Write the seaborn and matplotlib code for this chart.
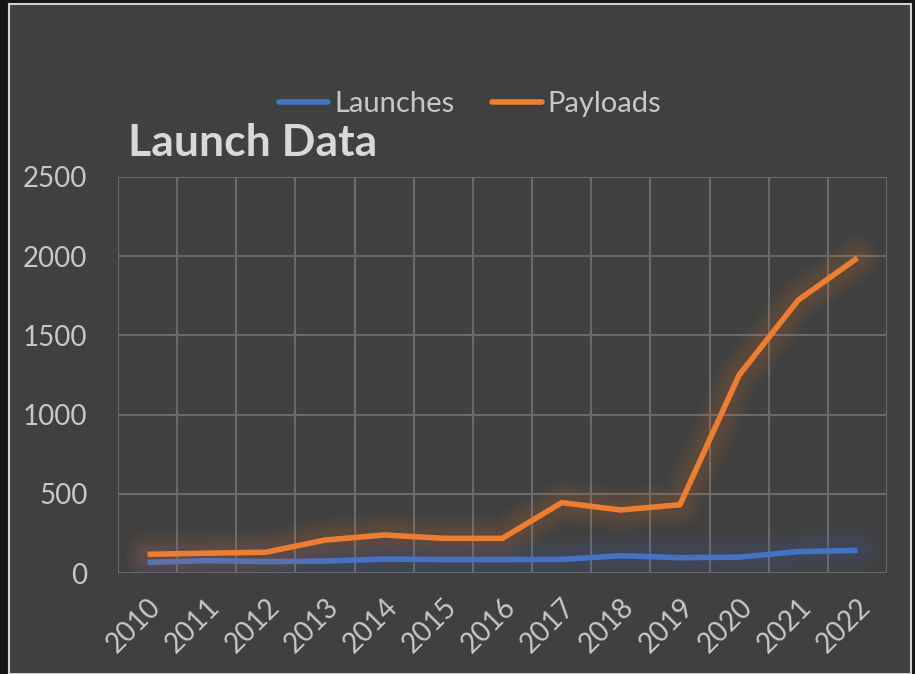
import matplotlib.pyplot as plt
import matplotlib.patheffects as pe
from matplotlib.patches import Rectangle
import pandas as pd
import seaborn as sns

years = [str(y) for y in range(2010, 2023)]
launches = [67, 78, 72, 75, 88, 85, 85, 86, 109, 97, 100, 135, 143]
payloads = [118, 125, 131, 208, 240, 219, 219, 444, 398, 431, 1250, 1723, 1989]
y_ticks = [0, 500, 1000, 1500, 2000, 2500]

bg = '#404040'
text_col = '#c8c8c8'
grid_col = '#6a6a6a'
blue = '#4472c4'
orange = '#ed7d31'

df = pd.DataFrame({
    'pos': list(range(len(years))) * 2,
    'value': launches + payloads,
    'series': ['Launches'] * len(years) + ['Payloads'] * len(years),
})

sns.set_style('dark')
plt.rcParams['font.family'] = ['Lato', 'DejaVu Sans']

fig = plt.figure(figsize=(9.15, 6.74), dpi=100, facecolor='#151515')
# chart panel behind everything
panel = Rectangle((9 / 915, 0), 902 / 915, 670 / 674, transform=fig.transFigure,
                  facecolor=bg, edgecolor='#d0d0d0', linewidth=1.5, zorder=-10)
fig.patches.append(panel)

ax = fig.add_axes([118 / 915, 1 - 573 / 674, 769 / 915, 396 / 674])
ax.set_facecolor(bg)

sns.lineplot(data=df, x='pos', y='value', hue='series', palette=[blue, orange],
             linewidth=4, ax=ax, legend=False)

# soft glow under the lines (round caps so the ends fade out)
for line, col in zip(ax.get_lines(), [blue, orange]):
    effects = [pe.Stroke(linewidth=w, foreground=col, alpha=0.035, capstyle='round',
                         joinstyle='round') for w in (32, 27, 22, 17, 12)]
    line.set_path_effects(effects + [pe.Normal()])
    line.set_solid_capstyle('butt')

ax.set_xlim(-0.5, len(years) - 0.5)
ax.set_ylim(0, 2500)
ax.set_yticks(y_ticks)
ax.set_yticklabels([str(t) for t in y_ticks])
ax.set_xticks(range(len(years)))
ax.set_xticklabels(years, rotation=45, ha='right', rotation_mode='anchor')
ax.set_xticks([i - 0.5 for i in range(len(years) + 1)], minor=True)
ax.grid(False)
ax.grid(True, which='minor', axis='x', color=grid_col, linewidth=1.5)
ax.grid(True, which='major', axis='y', color=grid_col, linewidth=1.5)
ax.tick_params(axis='both', which='both', length=0, colors=text_col, labelsize=20)
ax.tick_params(axis='y', pad=22)
ax.tick_params(axis='x', pad=15)
ax.set_axisbelow(True)
ax.set_xlabel('')
ax.set_ylabel('')
for s in ax.spines.values():
    s.set_visible(False)

fig.text(128 / 915, 1 - 143 / 674, 'Launch Data', fontsize=32, fontweight='bold',
         color='#d9d9d9', va='center', ha='left')

handles = [plt.Line2D([], [], color=blue, linewidth=4),
           plt.Line2D([], [], color=orange, linewidth=4)]
fig.legend(handles, ['Launches', 'Payloads'], loc='center', bbox_to_anchor=(470 / 915, 1 - 104 / 674),
           ncol=2, frameon=False, fontsize=21, labelcolor=text_col, handlelength=1.7,
           handletextpad=0.2, columnspacing=1.3)

fig.savefig('out.png', dpi=100, facecolor=fig.get_facecolor())
